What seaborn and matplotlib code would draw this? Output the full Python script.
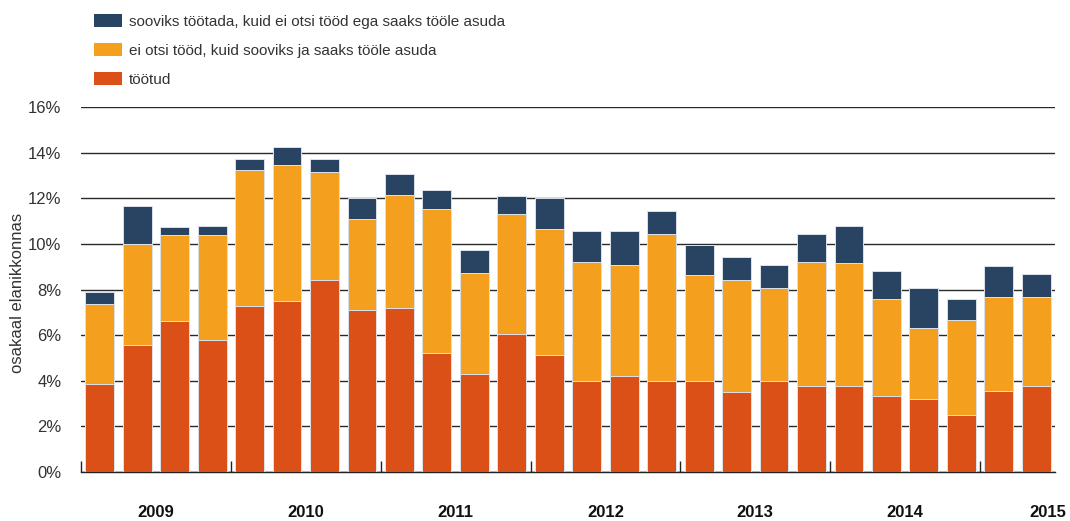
import numpy as np
import pandas as pd
import matplotlib
matplotlib.use("Agg")
import matplotlib.pyplot as plt
import seaborn as sns
from matplotlib.patches import Patch

# quarters 2009 I ... 2015 II
years = [2009, 2010, 2011, 2012, 2013, 2014, 2015]
quarters = [f"{y} {q}" for y in years for q in ["I", "II", "III", "IV"]][:26]

tootud = [3.86, 5.58, 6.64, 5.80, 7.29, 7.51, 8.43, 7.08, 7.21, 5.23, 4.28, 6.07, 5.15,
          4.01, 4.23, 4.01, 4.01, 3.51, 4.01, 3.79, 3.79, 3.35, 3.22, 2.50, 3.57, 3.79]
ei_otsi = [3.52, 4.43, 3.74, 4.58, 5.94, 5.94, 4.74, 4.02, 4.94, 6.29, 4.45, 5.23, 5.51,
           5.21, 4.85, 6.43, 4.64, 4.92, 4.07, 5.43, 5.38, 4.24, 3.08, 4.15, 4.09, 3.87]
sooviks = [0.49, 1.64, 0.37, 0.42, 0.50, 0.79, 0.56, 0.90, 0.93, 0.85, 0.99, 0.79, 1.36,
           1.36, 1.50, 0.99, 1.29, 1.01, 1.00, 1.22, 1.63, 1.21, 1.78, 0.94, 1.36, 1.01]

labels = ["sooviks töötada, kuid ei otsi tööd ega saaks tööle asuda",
          "ei otsi tööd, kuid sooviks ja saaks tööle asuda",
          "töötud"]
colors = ["#294362", "#F4A01E", "#DB5016"]

df = pd.DataFrame({"kvartal": quarters, "tootud": tootud, "ei_otsi": ei_otsi, "sooviks": sooviks})
df["mid"] = df["tootud"] + df["ei_otsi"]
df["total"] = df["mid"] + df["sooviks"]

sns.set_style("white")
plt.rcParams["font.family"] = ["Liberation Sans", "DejaVu Sans"]

fig = plt.figure(figsize=(10.7, 5.21), dpi=100)
ax = fig.add_axes([81 / 1070, 1 - 472 / 521, (1055 - 81) / 1070, (472 - 107) / 521])

for col, c in zip(["total", "mid", "tootud"], colors):
    sns.barplot(data=df, x="kvartal", y=col, color=c, saturation=1, width=0.77,
                edgecolor="#dbe2ea", linewidth=0.7, ax=ax, zorder=3)

ax.set_xlim(-0.5, 25.5)
ax.set_ylim(0, 16)
ax.set_yticks(np.arange(0, 17, 2))
ax.set_yticklabels([f"{v}%" for v in range(0, 17, 2)], fontsize=12, color="#333333")
ax.yaxis.grid(True, color="#2a2a2a", lw=1)
ax.set_axisbelow(True)
ax.tick_params(axis="y", length=0, pad=14)

for s in ["top", "right", "left"]:
    ax.spines[s].set_visible(False)
ax.spines["bottom"].set_color("#222222")
ax.spines["bottom"].set_linewidth(1)

# year separators
ax.set_xticks(np.arange(-0.5, 25, 4))
ax.set_xticklabels([])
ax.tick_params(axis="x", bottom=True, direction="in", length=8, width=1, color="#222222")
ax.set_xlabel("")
ax.set_ylabel("osakaal elanikkonnas", fontsize=12, color="#333333")
ax.yaxis.set_label_coords(-0.057, 0.49)

year_pos = [1.5, 5.5, 9.5, 13.5, 17.5, 21.5, 25.3]
for y, p in zip(years, year_pos):
    ax.text(p, -0.112, str(y), transform=ax.get_xaxis_transform(), ha="center",
            va="center", fontsize=12, fontweight="bold", color="#111111")

handles = [Patch(facecolor=c, edgecolor="none") for c in colors]
fig.legend(handles, labels, loc="upper left", bbox_to_anchor=(94 / 1070, 1 - 14 / 521),
           frameon=False, fontsize=11, handlelength=1.8, handleheight=0.9,
           handletextpad=0.5, labelspacing=0.95, borderpad=0, borderaxespad=0,
           labelcolor="#333333")

fig.savefig("out.png", dpi=100)
